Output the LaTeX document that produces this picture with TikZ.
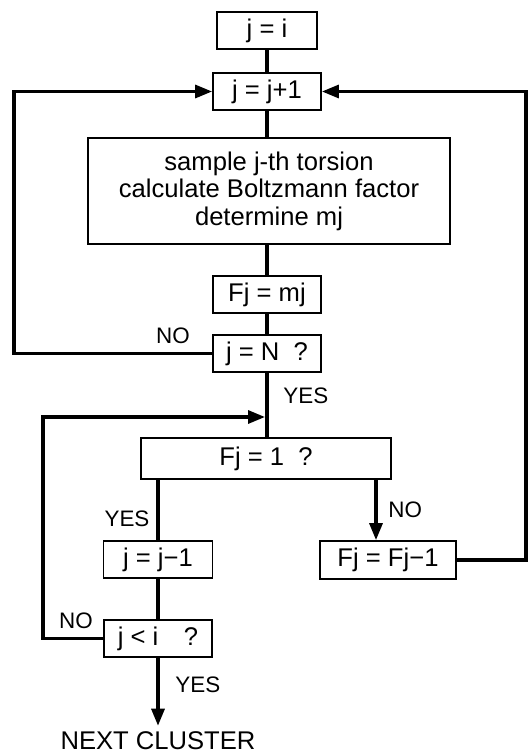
\documentclass[tikz,border=0pt]{standalone}
\usepackage{fontspec}
\setmainfont{Liberation Sans}
\usetikzlibrary{arrows.meta}

\tikzset{
  box/.style={draw, line width=0.9pt, minimum width=54pt, minimum height=18.5pt,
    inner sep=0pt, font=\fontsize{12.8}{13.8}\selectfont},
  flow/.style={line width=1.6pt},
  arr/.style={-{Triangle[length=8.5pt,width=6.5pt]}},
  lbl/.style={inner sep=0pt, font=\fontsize{11.2}{12}\selectfont},
}

\begin{document}
\begin{tikzpicture}[x=0.5pt,y=-0.5pt]
    \useasboundingbox (0,0) rectangle (527,755);

    % Boxes
    \node[box, minimum width=50pt] (ji) at (267,30.5) {j = i};
    \node[box] (jinc) at (267,91.5) {j = j+1};
    \node[box, minimum width=181pt, minimum height=53pt, align=center] (smp) at (269,191)
        {sample j-th torsion\\calculate Boltzmann factor\\determine mj};
    \node[box] (fmj) at (267,294.5) {Fj = mj};
    \node[box] (jN) at (267,353.5) {j = N\ \ ?};
    \node[box, minimum width=125pt, minimum height=20.5pt] (f1) at (266,458.5) {Fj = 1\ \ ?};
    \node[box, minimum width=54.5pt] (jdec) at (158,559.5) {j = j−1};
    \node[box, minimum width=68pt, minimum height=19pt] (fdec) at (388,560) {Fj = Fj−1};
    \node[box] (jlt) at (158,638.5) {j < i\quad ?};
    \node[inner sep=2.5pt, anchor=base, font=\fontsize{12.8}{13.8}\selectfont] (next) at (158,749) {NEXT CLUSTER};

    % Loop corners
    \coordinate (westA) at (14,0);
    \coordinate (westB) at (43,0);
    \coordinate (eastA) at (526,0);
    \coordinate (nox) at (376,0);
    \coordinate (merge) at (265,417);

    % Main line
    \draw[flow] (ji) -- (jinc);
    \draw[flow] (jinc) -- (jinc |- smp.north);
    \draw[flow] (smp.south -| fmj) -- (fmj);
    \draw[flow] (fmj) -- (jN);
    \draw[flow] (jN) -- (jN |- f1.north);

    % Branches
    \draw[flow] (f1.south -| jdec) -- (jdec);
    \draw[flow, arr] (f1.south -| nox) -- (fdec.north -| nox);
    \draw[flow] (jdec) -- (jlt);
    \draw[flow, arr] (jlt) -- (next);

    % Loops
    \draw[flow, arr] (jN.west) -- (jN.west -| westA) -- (jinc.west -| westA) -- (jinc.west);
    \draw[flow, arr] (fdec.east) -- (fdec.east -| eastA) -- (jinc.east -| eastA) -- (jinc.east);
    \draw[flow, arr] (jlt.west) -- (jlt.west -| westB) -- (merge -| westB) -- (merge);

    % Labels
    \node[lbl, anchor=base] (noA) at (173,343) {NO};
    \node[lbl, anchor=base west] (yesA) at (283,403) {YES};
    \node[lbl, anchor=base] (yesB) at (127,526) {YES};
    \node[lbl, anchor=base west] (noB) at (388,517) {NO};
    \node[lbl, anchor=base] (noC) at (76,628) {NO};
    \node[lbl, anchor=base west] (yesC) at (175,692) {YES};
\end{tikzpicture}
\end{document}
